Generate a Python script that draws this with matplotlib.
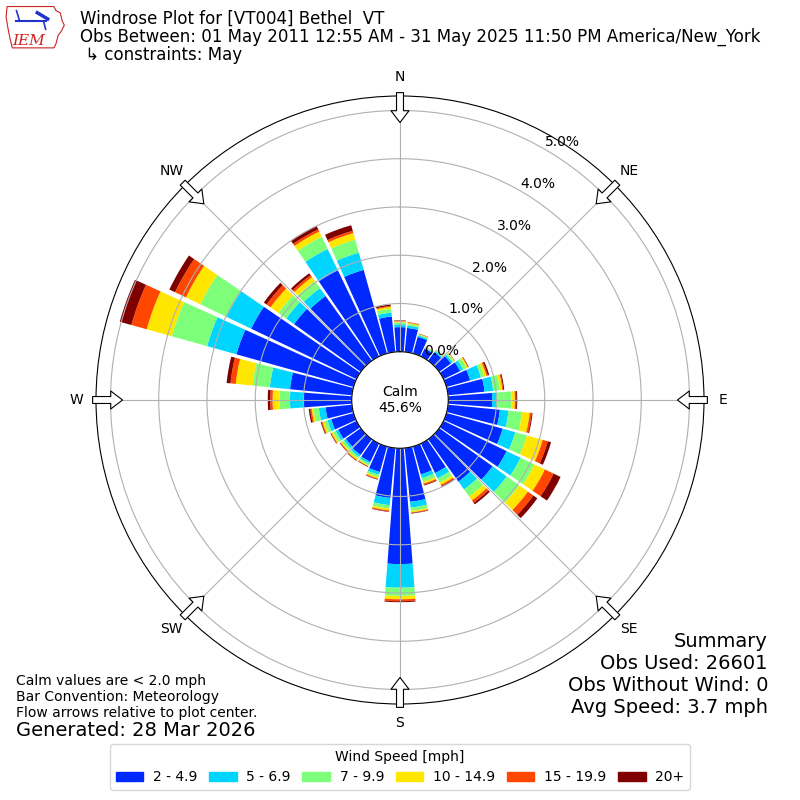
import matplotlib
matplotlib.use("Agg")
import matplotlib.pyplot as plt
import numpy as np
from matplotlib.patches import Patch, Polygon

# direction bins (deg, meteorological convention)
directions = np.arange(0, 360, 10)
speed_labels = ["2 - 4.9", "5 - 6.9", "7 - 9.9", "10 - 14.9", "15 - 19.9", "20+"]

# percent of observations per direction, one list per speed bin
spd_2_5 = [0.51, 0.50, 0.36, 0.18, 0.22, 0.30, 0.38, 0.51, 0.76, 0.91, 1.08, 1.21,
           1.45, 1.36, 1.08, 0.68, 0.60, 1.12, 2.40, 1.04, 0.55, 0.42, 0.40, 0.38,
           0.42, 0.48, 0.55, 1.01, 1.29, 2.52, 2.42, 1.70, 1.65, 1.98, 1.80, 0.74]
spd_5_7 = [0.06, 0.05, 0.03, 0.02, 0.03, 0.04, 0.07, 0.23, 0.18, 0.10, 0.18, 0.27,
           0.32, 0.36, 0.20, 0.12, 0.08, 0.12, 0.49, 0.15, 0.06, 0.04, 0.05, 0.05,
           0.06, 0.08, 0.14, 0.27, 0.42, 0.63, 0.57, 0.20, 0.20, 0.49, 0.37, 0.08]
spd_7_10 = [0.04, 0.035, 0.02, 0.01, 0.02, 0.04, 0.08, 0.07, 0.14, 0.30, 0.28, 0.25,
            0.32, 0.32, 0.18, 0.10, 0.08, 0.07, 0.17, 0.07, 0.05, 0.04, 0.05, 0.05,
            0.06, 0.07, 0.11, 0.22, 0.36, 0.76, 0.60, 0.20, 0.18, 0.28, 0.28, 0.08]
spd_10_15 = [0.02, 0.02, 0.01, 0.005, 0.007, 0.015, 0.03, 0.05, 0.05, 0.07, 0.16, 0.34,
             0.24, 0.22, 0.10, 0.05, 0.04, 0.03, 0.07, 0.04, 0.03, 0.02, 0.03, 0.03,
             0.035, 0.04, 0.04, 0.14, 0.35, 0.54, 0.33, 0.20, 0.10, 0.12, 0.14, 0.04]
spd_15_20 = [0.01, 0.01, 0.005, 0.003, 0.003, 0.005, 0.01, 0.03, 0.02, 0.03, 0.04, 0.11,
             0.20, 0.14, 0.06, 0.03, 0.025, 0.015, 0.04, 0.02, 0.015, 0.01, 0.015, 0.015,
             0.015, 0.02, 0.03, 0.05, 0.11, 0.33, 0.25, 0.10, 0.05, 0.05, 0.05, 0.02]
spd_20p = [0.01, 0.005, 0.005, 0.002, 0.002, 0.003, 0.01, 0.03, 0.02, 0.02, 0.02, 0.07,
           0.16, 0.10, 0.04, 0.02, 0.015, 0.01, 0.02, 0.01, 0.01, 0.01, 0.01, 0.01,
           0.01, 0.015, 0.03, 0.05, 0.08, 0.25, 0.13, 0.07, 0.05, 0.08, 0.12, 0.03]
calm_pct = 45.6
rticks = [0, 1, 2, 3, 4, 5]

series = [spd_2_5, spd_5_7, spd_7_10, spd_10_15, spd_15_20, spd_20p]
colors = plt.cm.jet(np.linspace(0, 1, 7)[1:])

fig = plt.figure(figsize=(8, 8), dpi=100)
ax = fig.add_axes([0.12, 0.12, 0.76, 0.76], polar=True)
ax.set_theta_zero_location("N")
ax.set_theta_direction(-1)

theta = np.deg2rad(directions)
width = np.deg2rad(10) * 0.88
bottom = np.zeros(len(directions))
for vals, c, lbl in zip(series, colors, speed_labels):
    vals = np.array(vals)
    ax.bar(theta, vals, width=width, bottom=bottom, color=c, label=lbl, zorder=1)
    bottom += vals

rmax = 5.3
ax.set_ylim(0, rmax)
ax.set_rorigin(-1.0)
ax.set_rticks(rticks)
ax.set_yticklabels(["%.1f%%" % t for t in rticks], fontsize=10)
ax.set_rlabel_position(30)
ax.set_thetagrids(range(0, 360, 45), ["N", "NE", "E", "SE", "S", "SW", "W", "NW"],
                  fontsize=10)
ax.grid(True, color="#b0b0b0", lw=0.8)

# flow arrows round the edge
for d in range(0, 360, 45):
    ax.annotate("", xy=(np.deg2rad(d), rmax - 0.55), xytext=(np.deg2rad(d), rmax + 0.07),
                arrowprops=dict(arrowstyle="simple,head_length=0.85,head_width=1.3,tail_width=0.5",
                                fc="white", ec="black", lw=0.8, shrinkA=0, shrinkB=0,
                                mutation_scale=10),
                annotation_clip=False, zorder=5)

ax.text(0, -1.0, "Calm\n%.1f%%" % calm_pct, ha="center", va="center", fontsize=10,
        zorder=6)

fig.text(0.1, 1 - 19 / 800, "Windrose Plot for [VT004] Bethel  VT",
         va="center", ha="left", fontsize=12)
fig.text(0.1, 1 - 37 / 800,
         "Obs Between: 01 May 2011 12:55 AM - 31 May 2025 11:50 PM America/New_York",
         va="center", ha="left", fontsize=12)
fig.text(0.1, 1 - 55 / 800, " \u21b3 constraints: May", va="center", ha="left", fontsize=12)

fig.text(0.02, 0.1, "Calm values are < 2.0 mph\nBar Convention: Meteorology\n"
         "Flow arrows relative to plot center.", va="bottom", ha="left", fontsize=10)
fig.text(0.02, 1 - 730 / 800, "Generated: 28 Mar 2026", va="center", ha="left", fontsize=14)
fig.text(0.96, 0.104, "Summary\nObs Used: 26601\nObs Without Wind: 0\nAvg Speed: 3.7 mph",
         va="bottom", ha="right", fontsize=14, multialignment="right")

handles = [Patch(color=c) for c in colors]
fig.legend(handles, speed_labels, loc="lower center", ncol=6, fontsize=10,
           title="Wind Speed [mph]", title_fontsize=10, bbox_to_anchor=(0.5, 0.0125),
           borderaxespad=0, columnspacing=0.82, handletextpad=0.7, handlelength=2.0)

# rough IEM logo
lax = fig.add_axes([0.005, 0.935, 0.078, 0.062])
lax.set_xlim(0, 60)
lax.set_ylim(0, 48)
lax.axis("off")
iowa = [(3, 44), (48, 44), (50, 40), (54, 38), (56, 30), (58, 26), (55, 20), (52, 16),
        (50, 8), (48, 4), (8, 4), (6, 12), (4, 22), (2, 34)]
lax.add_patch(Polygon(iowa, closed=True, fill=False, ec="#cc2222", lw=0.8))
lax.plot([12, 40], [30, 30], color="#2233cc", lw=1.5)
lax.plot([12, 15], [40, 30], color="#2233cc", lw=1.2)
lax.plot([32, 42], [38, 32], color="#2233cc", lw=2.5)
lax.plot([38, 40], [30, 22], color="#2233cc", lw=1.2)
lax.text(8, 7, "IEM", color="#cc2222", fontsize=11, fontstyle="italic",
         family="DejaVu Serif")

fig.savefig("out.png", dpi=100)
